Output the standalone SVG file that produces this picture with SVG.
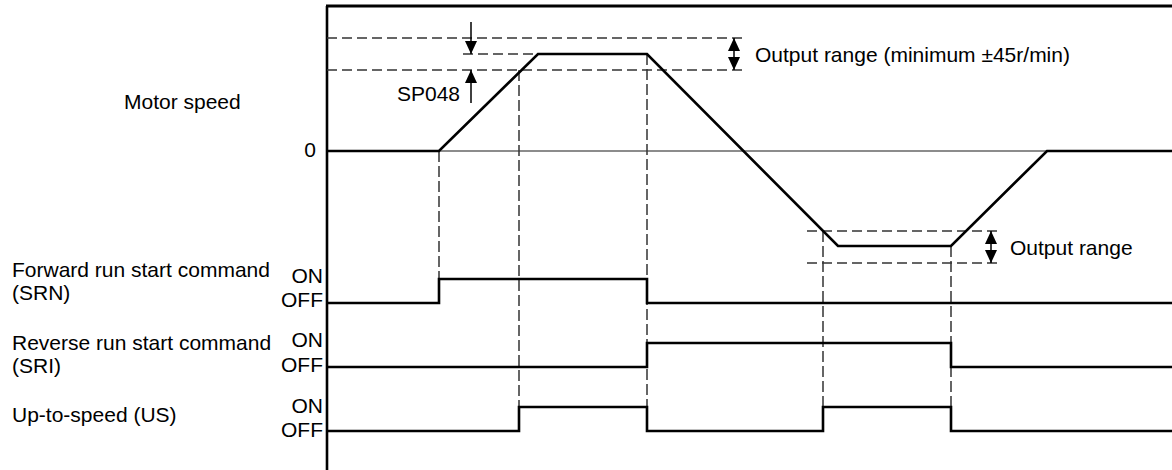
<svg xmlns="http://www.w3.org/2000/svg" width="1172" height="470" viewBox="0 0 1172 470">
<style>
text{font-family:"Liberation Sans",Arial,sans-serif;font-size:21px;fill:#000}
.r{text-anchor:end}
.sig{fill:none;stroke:#000;stroke-width:2.6;stroke-linejoin:miter}
.dh{fill:none;stroke:#333;stroke-width:1.5;stroke-dasharray:10 5}
.dv{fill:none;stroke:#333;stroke-width:1.5;stroke-dasharray:11 4}
.ar{fill:none;stroke:#000;stroke-width:1.5}
</style>
<defs>
<marker id="ah" viewBox="0 0 13 12" refX="13" refY="6" markerWidth="13" markerHeight="12" markerUnits="userSpaceOnUse" orient="auto-start-reverse">
<path d="M0,0 L13,6 L0,12 z" fill="#000"/>
</marker>
</defs>
<g id="axes">
<line x1="327" y1="6" x2="327" y2="470" stroke="#000" stroke-width="2.6"/>
<line x1="326" y1="6" x2="1172" y2="6" stroke="#000" stroke-width="3"/>
<line x1="327" y1="151" x2="1172" y2="151" stroke="#666" stroke-width="1.5"/>
</g>
<g id="guides">
<line class="dh" x1="327" y1="38" x2="743" y2="38"/>
<line class="dh" x1="327" y1="70" x2="743" y2="70"/>
<line class="dh" x1="463" y1="54" x2="538" y2="54"/>
<line class="dh" x1="807" y1="231" x2="998" y2="231"/>
<line class="dh" x1="807" y1="263" x2="998" y2="263"/>
<line class="dv" x1="439" y1="151" x2="439" y2="279"/>
<line class="dv" x1="519" y1="70" x2="519" y2="407"/>
<line class="dv" x1="647" y1="54" x2="647" y2="407"/>
<line class="dv" x1="823" y1="231" x2="823" y2="407"/>
<line class="dv" x1="951" y1="246" x2="951" y2="407"/>
</g>
<g id="motor-speed">
<path class="sig" d="M327,151 H439 L538,54 H647 L838,246 H951 L1047,151 H1172"/>
<text x="124" y="109">Motor speed</text>
<text class="r" x="316" y="157">0</text>
</g>
<g id="sp048">
<line class="ar" x1="471" y1="22" x2="471" y2="54" marker-end="url(#ah)"/>
<line class="ar" x1="471" y1="103" x2="471" y2="70" marker-end="url(#ah)"/>
<text x="397" y="101">SP048</text>
</g>
<g id="output-range-top">
<line class="ar" x1="734" y1="38" x2="734" y2="70" marker-start="url(#ah)" marker-end="url(#ah)"/>
<text x="755" y="61.5">Output range (minimum ±45r/min)</text>
</g>
<g id="output-range-bottom">
<line class="ar" x1="991" y1="231" x2="991" y2="263" marker-start="url(#ah)" marker-end="url(#ah)"/>
<text x="1010" y="255">Output range</text>
</g>
<g id="srn">
<path class="sig" d="M327,303 H439 V279 H647 V303 H1172"/>
<text x="12" y="277">Forward run start command</text>
<text x="12" y="300">(SRN)</text>
<text class="r" x="323" y="283">ON</text>
<text class="r" x="323" y="306.5">OFF</text>
</g>
<g id="sri">
<path class="sig" d="M327,367 H647 V343 H951 V367 H1172"/>
<text x="12" y="350">Reverse run start command</text>
<text x="12" y="373">(SRI)</text>
<text class="r" x="323" y="347">ON</text>
<text class="r" x="323" y="371.5">OFF</text>
</g>
<g id="us">
<path class="sig" d="M327,431 H519 V407 H647 V431 H823 V407 H951 V431 H1172"/>
<text x="12" y="422">Up-to-speed (US)</text>
<text class="r" x="323" y="413">ON</text>
<text class="r" x="323" y="436.5">OFF</text>
</g>
</svg>
